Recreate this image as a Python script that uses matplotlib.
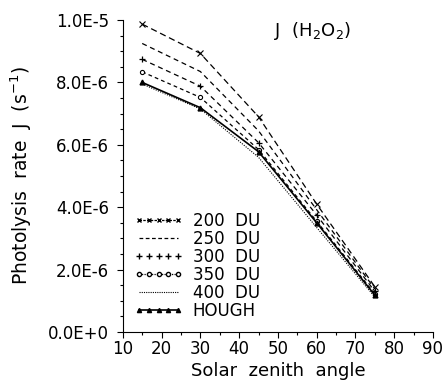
import matplotlib
matplotlib.use("Agg")
import matplotlib.pyplot as plt
from matplotlib.lines import Line2D
from matplotlib.ticker import MultipleLocator, FuncFormatter

sza = [15, 30, 45, 60, 75]
j_200 = [9.87e-6, 8.93e-6, 6.90e-6, 4.10e-6, 1.45e-6]
j_250 = [9.25e-6, 8.35e-6, 6.45e-6, 3.92e-6, 1.38e-6]
j_300 = [8.74e-6, 7.88e-6, 6.07e-6, 3.75e-6, 1.30e-6]
j_350 = [8.34e-6, 7.52e-6, 5.85e-6, 3.55e-6, 1.22e-6]
j_400 = [7.95e-6, 7.15e-6, 5.60e-6, 3.35e-6, 1.12e-6]
j_hough = [8.00e-6, 7.19e-6, 5.78e-6, 3.50e-6, 1.18e-6]
labels = ["200  DU", "250  DU", "300  DU", "350  DU", "400  DU", "HOUGH"]
ytick_labels = ["0.0E+0", "2.0E-6", "4.0E-6", "6.0E-6", "8.0E-6", "1.0E-5"]

plt.rcParams['font.family'] = ['DejaVu Sans']
fig = plt.figure(figsize=(4.45, 3.86), dpi=100)
ax = fig.add_axes([0.276, 0.140, 0.697, 0.808])

k = dict(color='black', lw=0.9)
ax.plot(sza, j_200, ls=(0, (5, 3)), marker='x', ms=4, mew=0.8, **k)
ax.plot(sza, j_250, ls=(0, (4, 3)), **k)
ax.plot(sza, j_300, ls=(0, (4, 3)), marker='+', ms=5, mew=0.9, **k)
ax.plot(sza, j_350, ls=(0, (3, 2.5)), marker='o', ms=3, mfc='white', mew=0.8, **k)
ax.plot(sza, j_400, ls=(0, (1, 1.2)), lw=0.8, color='black')
ax.plot(sza, j_hough, ls='-', marker='^', ms=3.5, color='black', lw=1.2)

ax.set_xlim(10, 90)
ax.set_ylim(0, 1.0e-5)
ax.xaxis.set_major_locator(MultipleLocator(10))
ax.xaxis.set_minor_locator(MultipleLocator(5))
ax.yaxis.set_major_locator(MultipleLocator(2e-6))
ax.yaxis.set_minor_locator(MultipleLocator(5e-7))
ax.yaxis.set_major_formatter(FuncFormatter(lambda v, p: ytick_labels[int(round(v / 2e-6))] if 0 <= int(round(v / 2e-6)) < len(ytick_labels) else ""))
for s in ['top', 'right']:
    ax.spines[s].set_visible(False)
ax.tick_params(which='both', direction='out', labelsize=12, width=0.8, pad=2)
ax.tick_params(axis='y', which='major', pad=6)
ax.tick_params(which='major', length=4)
ax.tick_params(which='minor', length=2.5)

ax.set_xlabel("Solar  zenith  angle", fontsize=13, labelpad=3)
ax.set_ylabel("Photolysis  rate  J  (s$^{-1}$)", fontsize=13.5, labelpad=10)
ax.text(59, 9.65e-6, "J  (H$_2$O$_2$)", fontsize=13, ha='center', va='center')

handles = [
    Line2D([], [], color='black', lw=0.9, ls=(0, (2, 1)), marker='x', ms=3),
    Line2D([], [], color='black', lw=0.9, ls=(0, (3, 2))),
    Line2D([], [], color='black', lw=0, marker='+', ms=4),
    Line2D([], [], color='black', lw=0.9, ls=(0, (1, 1)), marker='o', ms=3, mfc='white'),
    Line2D([], [], color='black', lw=0.8, ls=(0, (1, 1))),
    Line2D([], [], color='black', lw=1.2, marker='^', ms=3),
]
leg = ax.legend(handles, labels, loc='lower left', bbox_to_anchor=(0.0, 0.0), frameon=False,
                fontsize=12, numpoints=5, handlelength=2.9, handletextpad=0.6,
                labelspacing=0.0, borderaxespad=0.3)

fig.savefig("out.png", dpi=100)
